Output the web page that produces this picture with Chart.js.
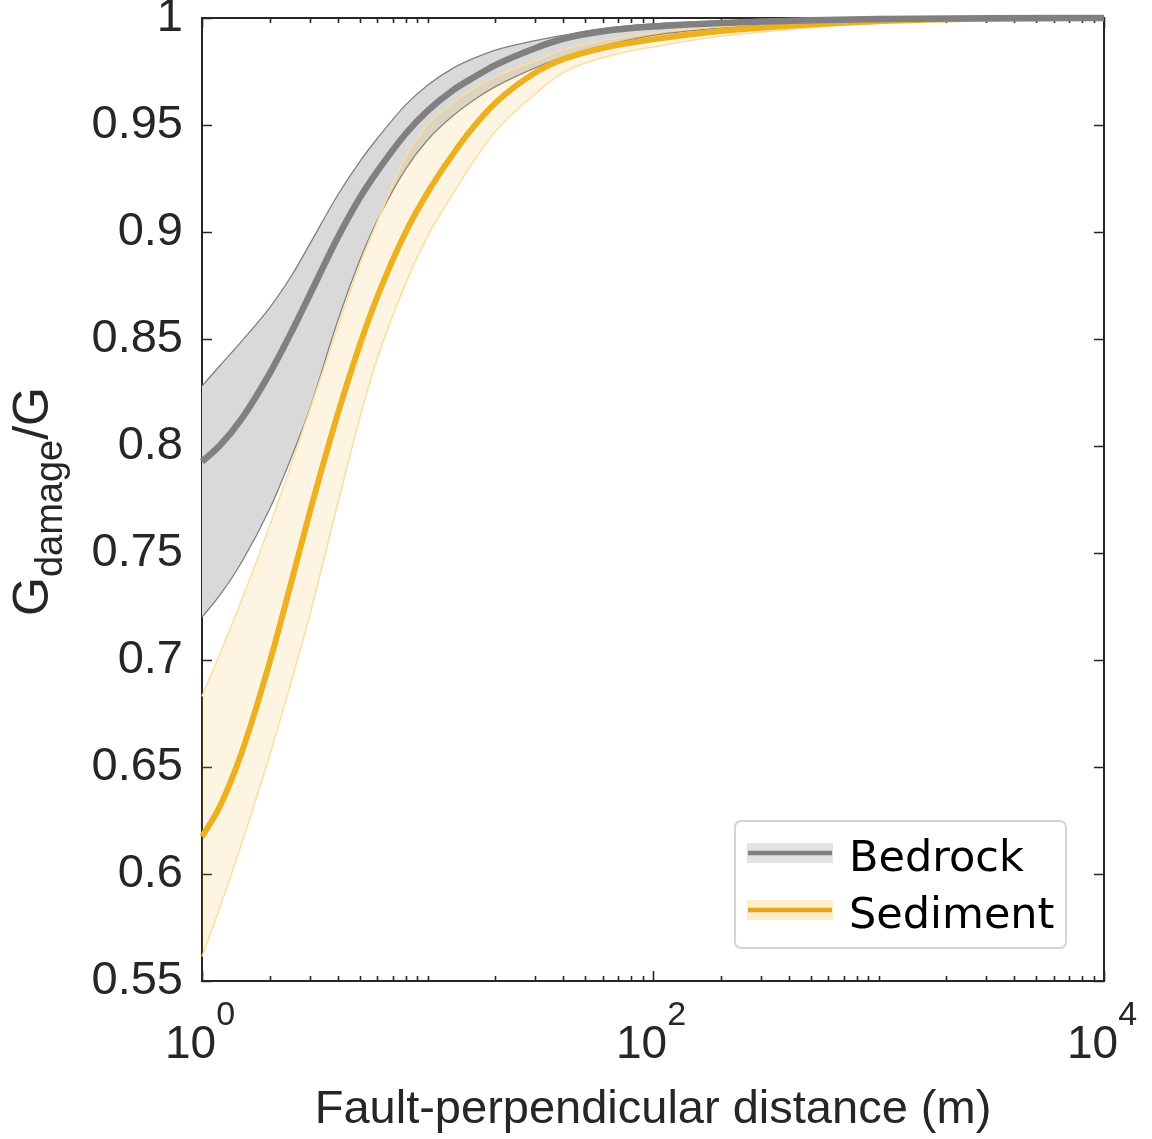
<!DOCTYPE html>
<html>
<head>
<meta charset="utf-8">
<script src="https://cdn.jsdelivr.net/npm/chart.js@4.4.1/dist/chart.umd.min.js"></script>
<style>
  html, body { margin: 0; padding: 0; background: #ffffff; }
  #wrap { position: relative; width: 1152px; height: 1139px; }
</style>
</head>
<body>
<div id="wrap"><canvas id="c" width="1152" height="1139"></canvas></div>
<script>
// ---- data ----
const distances = [1, 1.2, 1.5, 2, 2.5, 3, 4, 5, 6, 8, 10, 13, 16, 20, 30, 40, 60, 100, 200, 500, 1000, 3000, 10000];

const bedrockMean  = [0.7927, 0.8002, 0.8128, 0.8341, 0.8535, 0.8705, 0.8974, 0.9158, 0.9284, 0.9459, 0.9566, 0.9663, 0.9722, 0.978, 0.9859, 0.9903, 0.9938, 0.996, 0.9977, 0.999, 0.9995, 0.9999, 1.0];
const bedrockUpper = [0.828, 0.8375, 0.849, 0.8648, 0.8798, 0.8942, 0.9173, 0.9328, 0.9438, 0.9594, 0.9686, 0.9766, 0.9811, 0.985, 0.9894, 0.9919, 0.995, 0.9972, 0.9985, 0.9994, 0.9997, 1.0, 1.0];
const bedrockLower = [0.720, 0.7303, 0.7458, 0.7708, 0.7951, 0.8172, 0.8585, 0.8866, 0.9056, 0.9294, 0.943, 0.9544, 0.9616, 0.9679, 0.9767, 0.9817, 0.987, 0.9919, 0.9953, 0.998, 0.999, 0.9997, 1.0];

const sedimentMean  = [0.6174, 0.6316, 0.6568, 0.6993, 0.7371, 0.7687, 0.815, 0.847, 0.8699, 0.8999, 0.9183, 0.9365, 0.9491, 0.9603, 0.9744, 0.9807, 0.986, 0.99, 0.9939, 0.997, 0.9985, 0.9996, 1.0];
const sedimentUpper = [0.683, 0.7028, 0.728, 0.763, 0.7921, 0.8166, 0.8554, 0.8845, 0.905, 0.935, 0.950, 0.9605, 0.967, 0.9725, 0.980, 0.985, 0.9895, 0.993, 0.996, 0.9985, 0.9993, 0.9999, 1.0];
const sedimentLower = [0.5614, 0.5843, 0.6144, 0.6557, 0.6906, 0.7206, 0.773, 0.8128, 0.8412, 0.876, 0.898, 0.918, 0.933, 0.947, 0.9645, 0.9745, 0.9815, 0.9865, 0.9915, 0.9955, 0.9975, 0.9993, 1.0];

const seriesNames = ['Bedrock', 'Sediment'];
const yTickValues = [0.55, 0.6, 0.65, 0.7, 0.75, 0.8, 0.85, 0.9, 0.95, 1];
const yTickLabels = ['0.55', '0.6', '0.65', '0.7', '0.75', '0.8', '0.85', '0.9', '0.95', '1'];
const xMajorTicks = [1, 100, 10000];
const xMajorBase = ['10', '10', '10'];
const xMajorExp = ['0', '2', '4'];
const xTitle = 'Fault-perpendicular distance (m)';
const yTitleMain = 'G';
const yTitleSub = 'damage';
const yTitleTail = '/G';

// ---- styles ----
const C_BED = '#808080';
const C_BED_BAND = '#d9d9d9';
const C_SED = '#edb120';
const C_SED_EDGE = '#fedd9c';
const C_SED_BAND = 'rgba(237,177,32,0.13)';
const AX = '#262626';
const FONT = '"Liberation Sans", Arial, Helvetica, sans-serif';

const pts = arr => distances.map((d, i) => ({ x: d, y: arr[i] }));

const common = { pointRadius: 0, pointHoverRadius: 0, cubicInterpolationMode: 'monotone', clip: 8, borderJoinStyle: 'round' };

const datasets = [
  Object.assign({}, common, { label: 'bedUpper', data: pts(bedrockUpper), borderColor: C_BED, borderWidth: 1.3, backgroundColor: C_BED_BAND, fill: '+1', order: 6 }),
  Object.assign({}, common, { label: 'bedLower', data: pts(bedrockLower), borderColor: C_BED, borderWidth: 1.3, fill: false, order: 5 }),
  Object.assign({}, common, { label: 'sedUpper', data: pts(sedimentUpper), borderColor: C_SED_EDGE, borderWidth: 1.5, backgroundColor: C_SED_BAND, fill: '+1', order: 4 }),
  Object.assign({}, common, { label: 'sedLower', data: pts(sedimentLower), borderColor: C_SED_EDGE, borderWidth: 1.5, fill: false, order: 3 }),
  Object.assign({}, common, { label: seriesNames[1], data: pts(sedimentMean), borderColor: C_SED, borderWidth: 6, fill: false, order: 2 }),
  Object.assign({}, common, { label: seriesNames[0], data: pts(bedrockMean), borderColor: C_BED, borderWidth: 6.5, fill: false, order: 1 })
];

// minor tick positions on the log axis (1..9 x 10^k)
function logMinorTicks(min, max) {
  const out = [];
  for (let e = Math.round(Math.log10(min)); e < Math.round(Math.log10(max)); e++) {
    for (let m = 1; m <= 9; m++) out.push(m * Math.pow(10, e));
  }
  out.push(max);
  return out;
}

const axesPlugin = {
  id: 'axesBox',
  beforeDatasetsDraw(chart) {
    const { ctx, chartArea: a, scales: { x, y } } = chart;
    ctx.save();
    ctx.strokeStyle = AX;
    ctx.lineWidth = 1.6;
    ctx.beginPath();
    yTickValues.forEach(v => {
      const py = Math.round(y.getPixelForValue(v)) + 0.5;
      ctx.moveTo(a.left, py); ctx.lineTo(a.left + 10, py);
      ctx.moveTo(a.right, py); ctx.lineTo(a.right - 10, py);
    });
    logMinorTicks(1, 10000).forEach(v => {
      const px = Math.round(x.getPixelForValue(v)) + 0.5;
      const len = xMajorTicks.includes(v) ? 10 : 5;
      ctx.moveTo(px, a.bottom); ctx.lineTo(px, a.bottom - len);
      ctx.moveTo(px, a.top); ctx.lineTo(px, a.top + len);
    });
    ctx.stroke();
    ctx.lineWidth = 2;
    ctx.strokeRect(a.left, a.top, a.right - a.left, a.bottom - a.top);
    ctx.restore();
  },
  afterDraw(chart) {
    const { ctx, chartArea: a, scales: { x } } = chart;
    ctx.save();
    ctx.fillStyle = AX;
    xMajorTicks.forEach((v, i) => {
      const px = x.getPixelForValue(v);
      ctx.font = '46px ' + FONT;
      const wb = ctx.measureText(xMajorBase[i]).width;
      ctx.font = '34px ' + FONT;
      const we = ctx.measureText(xMajorExp[i]).width;
      const start = px - (wb + we) / 2 - 2;
      ctx.textBaseline = 'alphabetic';
      ctx.textAlign = 'left';
      ctx.font = '46px ' + FONT;
      ctx.fillText(xMajorBase[i], start, 1058);
      ctx.font = '34px ' + FONT;
      ctx.fillText(xMajorExp[i], start + wb, 1025);
    });
    ctx.font = '47px ' + FONT;
    ctx.textAlign = 'center';
    ctx.fillText(xTitle, (a.left + a.right) / 2, 1123);
    ctx.translate(48, (a.top + a.bottom) / 2 + 2);
    ctx.rotate(-Math.PI / 2);
    ctx.textAlign = 'left';
    ctx.font = '50px ' + FONT;
    const w1 = ctx.measureText(yTitleMain).width;
    const w3 = ctx.measureText(yTitleTail).width;
    ctx.font = '38px ' + FONT;
    const w2 = ctx.measureText(yTitleSub).width;
    let cx = -(w1 + w2 + w3) / 2;
    ctx.font = '50px ' + FONT;
    ctx.fillText(yTitleMain, cx, 0); cx += w1;
    ctx.font = '38px ' + FONT;
    ctx.fillText(yTitleSub, cx, 14); cx += w2;
    ctx.font = '50px ' + FONT;
    ctx.fillText(yTitleTail, cx, 0);
    ctx.restore();

    // legend
    ctx.save();
    ctx.fillStyle = '#ffffff';
    ctx.strokeStyle = '#d4d4d4';
    ctx.lineWidth = 2;
    ctx.beginPath();
    ctx.roundRect(735, 821, 331, 127, 6);
    ctx.fill();
    ctx.stroke();
    const items = [
      { name: seriesNames[0], band: '#e3e3e3', line: '#808080', cy: 853, base: 871 },
      { name: seriesNames[1], band: '#fdeec9', line: '#e0a524', cy: 910, base: 928 }
    ];
    items.forEach(it => {
      ctx.fillStyle = it.band;
      ctx.fillRect(747, it.cy - 10, 86, 20);
      ctx.strokeStyle = it.line;
      ctx.lineWidth = 4.5;
      ctx.beginPath();
      ctx.moveTo(748, it.cy); ctx.lineTo(832, it.cy);
      ctx.stroke();
      ctx.fillStyle = '#000000';
      ctx.font = '43px "DejaVu Sans", sans-serif';
      ctx.textAlign = 'left';
      ctx.textBaseline = 'alphabetic';
      ctx.fillText(it.name, 849, it.base);
    });
    ctx.restore();
  }
};

new Chart(document.getElementById('c'), {
  type: 'line',
  data: { datasets },
  options: {
    responsive: false,
    animation: false,
    devicePixelRatio: 1,
    layout: { padding: { top: 18, right: 48, left: 0, bottom: 0 } },
    plugins: { legend: { display: false }, tooltip: { enabled: false }, filler: { propagate: false } },
    scales: {
      x: {
        type: 'logarithmic', min: 1, max: 10000,
        grid: { display: false, drawTicks: false },
        border: { display: false },
        ticks: { display: false },
        afterFit: s => { s.height = 158; s.paddingLeft = 0; s.paddingRight = 0; }
      },
      y: {
        type: 'linear', min: 0.55, max: 1,
        grid: { display: false, drawTicks: false },
        border: { display: false },
        afterBuildTicks: s => { s.ticks = yTickValues.map(v => ({ value: v })); },
        ticks: {
          padding: 19,
          color: AX,
          font: { family: FONT, size: 47 },
          callback: (v) => { const i = yTickValues.findIndex(t => Math.abs(t - v) < 1e-6); return i >= 0 ? yTickLabels[i] : ''; }
        },
        afterFit: s => { s.width = 202; s.paddingTop = 0; s.paddingBottom = 0; }
      }
    }
  },
  plugins: [axesPlugin]
});
</script>
</body>
</html>
